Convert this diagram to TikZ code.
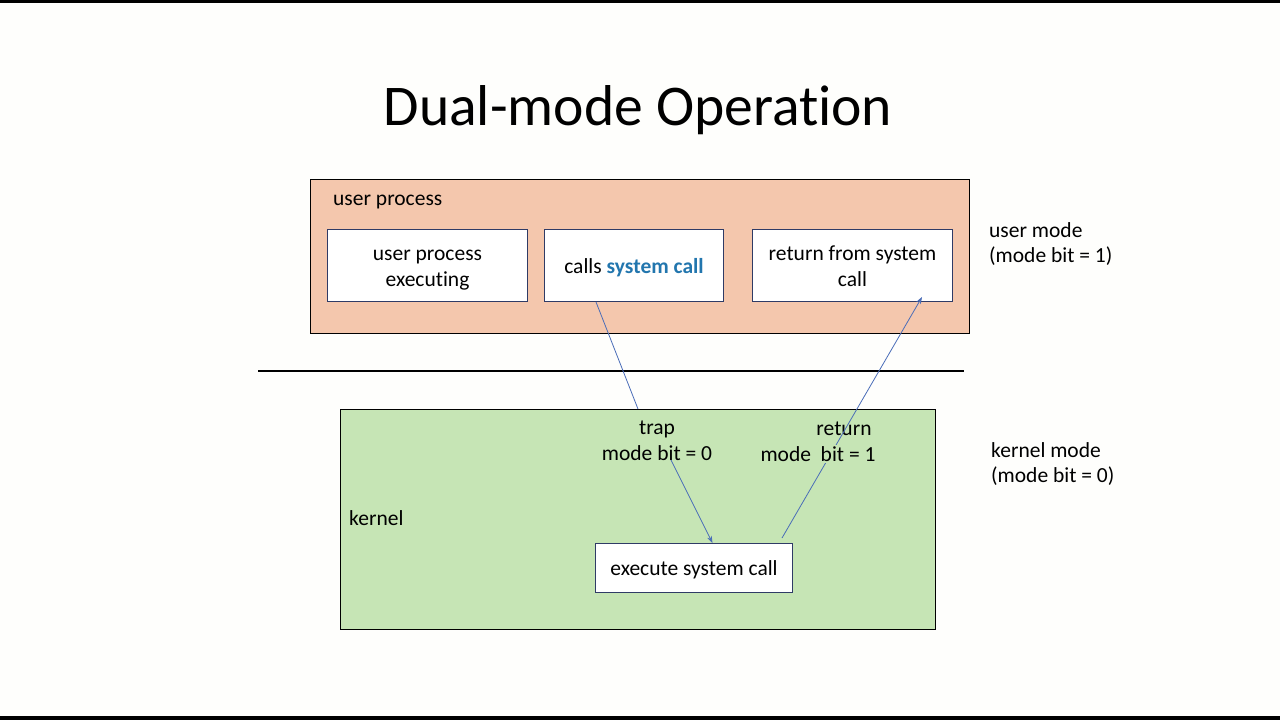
\documentclass[tikz,border=0pt]{standalone}
\usepackage{fontspec}
\setmainfont{Carlito}[Ligatures=NoCommon]
\usetikzlibrary{arrows.meta,calc}
\definecolor{peach}{HTML}{F4C7AD}
\definecolor{lgreen}{HTML}{C6E5B5}
\definecolor{boxline}{HTML}{2F3B66}
\definecolor{sysblue}{HTML}{2276AE}
\definecolor{arrowc}{HTML}{4A6DB8}
\definecolor{bg}{HTML}{FEFEFC}
\tikzset{
  body/.style={font=\fontsize{21.5}{25.8}\selectfont, align=center, text=black},
  region/.style={draw=black, line width=1.3pt, anchor=north west, inner sep=0pt},
  wbox/.style={draw=boxline, fill=white, line width=1pt, anchor=north west, inner sep=0pt},
  btext/.style={body, inner sep=0pt, yshift=-4pt},
  conn/.style={draw=arrowc, line width=0.8pt},
  arr/.style={conn, -{Stealth[length=7pt,width=5pt]}},
}
\begin{document}
\begin{tikzpicture}[x=1pt,y=-1pt]
\useasboundingbox (0,0) rectangle (1280,720);
\fill[bg] (0,0) rectangle (1280,720);
\fill[black] (0,0) rectangle (1280,3);
\fill[black] (0,716) rectangle (1280,720);

\node[font=\fontsize{57.6}{60}\selectfont, inner sep=0pt] (title) at (638,110) {Dual-mode Operation};

\node[region, fill=peach, minimum width=659pt, minimum height=154pt] (up) at (310,179) {};
\node[body, anchor=west, inner sep=0pt] (uplabel) at (333,202) {user process};
\node[wbox, minimum width=200pt, minimum height=72pt] (b1) at (327,229) {};
\node[btext, yshift=-1pt] (t1) at (b1.center) {user process\\executing};
\node[wbox, minimum width=179pt, minimum height=72pt] (b2) at (544,229) {};
\node[btext, yshift=2pt] (t2) at (b2.center) {calls \textcolor{sysblue}{\bfseries system call}};
\node[wbox, minimum width=200pt, minimum height=72pt] (b3) at (752,229) {};
\node[btext, yshift=3pt] (t3) at (b3.center) {return from system\\call};

\node[body, anchor=west, align=left, inner sep=0pt] (umode) at (989,244) {user mode\\(mode bit = 1)};

\coordinate (hl) at (258,371);
\coordinate (hr) at (964,371);
\draw[black, line width=1.8pt] (hl) -- (hr);

\node[region, fill=lgreen, minimum width=595pt, minimum height=220pt] (kern) at (340,409) {};
\node[body, anchor=west, inner sep=0pt] (klabel) at (349,518) {kernel};
\node[body, anchor=west, align=left, inner sep=0pt] (kmode) at (991,464) {kernel mode\\(mode bit = 0)};

\node[wbox, minimum width=197pt, minimum height=49pt] (exec) at (595,543) {};
\node[btext, yshift=2pt] (t4) at (exec.center) {execute system call};

\node[body, inner sep=0pt] (trap) at (657,441) {trap\\mode bit = 0};
\node[body, inner sep=0pt] (ret) at (844,429) {return};

\draw[conn] ([xshift=52pt]b2.south west) -- ([xshift=298pt]kern.north west);
\draw[arr] ([xshift=14pt,yshift=1pt]trap.south) -- ([xshift=18.5pt]exec.north);
\draw[arr] ([xshift=-11pt,yshift=5pt]exec.north east) -- ([xshift=-31pt,yshift=5pt]b3.south east);

\node[body, fill=lgreen, inner xsep=0pt, inner ysep=1pt] (rbit) at (818,454) {mode\ \ bit = 1};
\end{tikzpicture}
\end{document}
